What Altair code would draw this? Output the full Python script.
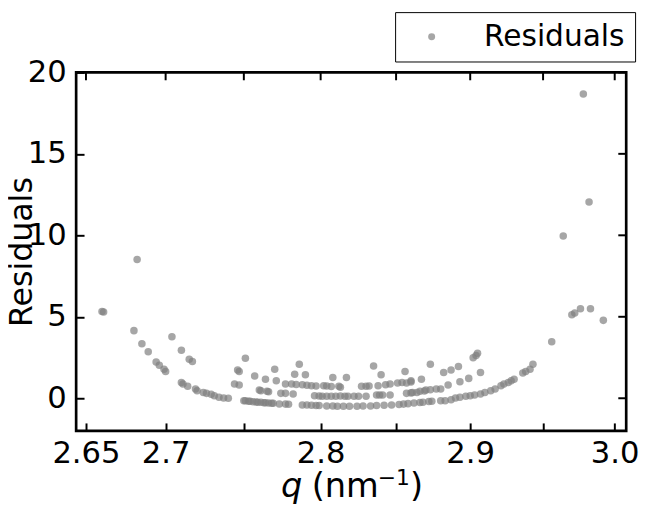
import altair as alt
import pandas as pd

# ---- data ----
q = [
    2.660, 2.661, 2.682, 2.680, 2.685, 2.689, 2.694, 2.696, 2.699, 2.700,
    2.704, 2.710, 2.715, 2.717, 2.710, 2.711, 2.714, 2.719, 2.720, 2.724,
    2.726, 2.729, 2.731, 2.734, 2.737, 2.740, 2.744, 2.747, 2.746, 2.747,
    2.751,
    # lowest band, left
    2.750, 2.751, 2.753, 2.754, 2.756, 2.758, 2.759, 2.761, 2.763, 2.764,
    2.766, 2.768, 2.769, 2.773, 2.777, 2.779,
    # lowest band, middle
    2.788, 2.791, 2.794, 2.797, 2.799, 2.804, 2.808, 2.811, 2.815, 2.819,
    2.824, 2.828, 2.833, 2.837, 2.842, 2.847, 2.852, 2.855, 2.858, 2.862,
    2.866, 2.868, 2.872, 2.874,
    # lowest band, rising right
    2.880, 2.883, 2.887, 2.890, 2.893, 2.897, 2.900, 2.903, 2.907, 2.910,
    2.914, 2.917, 2.921, 2.923, 2.926, 2.928, 2.930, 2.936, 2.938, 2.941,
    2.943, 2.956, 2.970, 2.972, 2.976, 2.983, 2.992,
    # second band
    2.760, 2.761, 2.765, 2.766, 2.774, 2.777, 2.782, 2.796, 2.799, 2.801,
    2.804, 2.807, 2.810, 2.813, 2.816, 2.818, 2.822, 2.825, 2.830, 2.837,
    2.839, 2.841, 2.846, 2.857, 2.860, 2.861, 2.864, 2.866, 2.869, 2.870,
    2.873, 2.877, 2.880,
    # third band
    2.777, 2.781, 2.784, 2.788, 2.791, 2.794, 2.797, 2.802, 2.804, 2.807,
    2.813, 2.812, 2.827, 2.830, 2.832, 2.838, 2.843, 2.846, 2.851, 2.854,
    2.857, 2.860,
    # upper scattered
    2.757, 2.764, 2.770, 2.771, 2.783, 2.786, 2.790, 2.808, 2.817, 2.835,
    2.840, 2.856, 2.860, 2.867, 2.873, 2.882, 2.887, 2.892, 2.893, 2.899,
    2.902, 2.904, 2.905, 2.907, 2.885,
    # far right outliers
    2.964, 2.978, 2.982,
]
residual = [
    5.33, 5.30, 8.52, 4.15, 3.35, 2.86, 2.23, 2.03, 1.78, 1.64,
    3.77, 2.94, 2.39, 2.25, 0.97, 0.87, 0.73, 0.57, 0.46, 0.36,
    0.30, 0.24, 0.16, 0.06, 0.02, 0.00, 0.87, 0.81, 1.74, 1.64,
    2.45,
    -0.15, -0.16, -0.18, -0.19, -0.21, -0.23, -0.24, -0.25, -0.27, -0.28,
    -0.29, -0.30, -0.30, -0.35, -0.36, -0.37,
    -0.41, -0.42, -0.43, -0.44, -0.45, -0.47, -0.48, -0.49, -0.49, -0.49,
    -0.49, -0.48, -0.47, -0.45, -0.43, -0.41, -0.38, -0.36, -0.33, -0.29,
    -0.26, -0.24, -0.20, -0.18,
    -0.15, -0.15, -0.09, 0.02, 0.06, 0.12, 0.16, 0.20, 0.26, 0.36,
    0.46, 0.57, 0.77, 0.87, 0.97, 1.07, 1.17, 1.55, 1.64, 1.78,
    2.09, 3.47, 5.13, 5.23, 5.49, 5.49, 4.78,
    0.50, 0.46, 0.43, 0.40, 0.30, 0.30, 0.26, 0.16, 0.14, 0.12,
    0.12, 0.12, 0.12, 0.14, 0.12, 0.12, 0.12, 0.12, 0.12, 0.20,
    0.20, 0.20, 0.20, 0.30, 0.33, 0.36, 0.36, 0.43, 0.45, 0.50,
    0.52, 0.57, 0.57,
    0.87, 0.87, 0.85, 0.83, 0.80, 0.77, 0.75, 0.77, 0.75, 0.72,
    0.67, 0.73, 0.73, 0.73, 0.75, 0.77, 0.83, 0.87, 0.93, 0.97,
    0.93, 1.00,
    1.37, 1.17, 1.78, 1.07, 1.48, 2.09, 1.44, 1.28, 1.28, 1.98,
    1.44, 1.64, 1.07, 1.17, 2.09, 1.58, 1.74, 1.95, 1.01, 1.22,
    2.49, 2.63, 2.76, 1.58, 0.81,
    9.96, 18.67, 12.04,
]
x_ticks = [2.65, 2.70, 2.75, 2.80, 2.85, 2.90, 2.95, 3.00]
y_ticks = [0, 5, 10, 15, 20]
series_name = "Residuals"
x_title_var = "q"
x_title_open = "(nm"
x_title_sup = "\u22121"
x_title_close = ")"
y_title = "Residuals"

# ---- layout ----
W, H = 557, 363
FONT = "DejaVu Sans"

df = pd.DataFrame({"q": q, "res": residual, "series": series_name})
xt = pd.DataFrame({"q": x_ticks})
yt = pd.DataFrame({"res": y_ticks})

xscale = alt.Scale(type="log", domain=[2.6439, 3.0081], nice=False, zero=False)
yscale = alt.Scale(domain=[-2, 20], nice=False, zero=False)

label_expr = (
    "(abs(datum.value-2.75)<0.001 || abs(datum.value-2.85)<0.001 || abs(datum.value-2.95)<0.001) ? '' : "
    "(abs(datum.value-2.65)<0.001 ? '2.65' : format(datum.value, '.1f'))"
)

xaxis = alt.Axis(
    values=x_ticks, labelExpr=label_expr, title=None, offset=-8,
    tickSize=8, tickWidth=2, tickColor="black", domain=False, grid=False,
    labelFont=FONT, labelFontSize=31, labelColor="black", labelPadding=8,
    labelFlush=False, labelOverlap=False,
)
yaxis = alt.Axis(
    values=y_ticks, title=y_title, offset=-8,
    tickSize=8, tickWidth=2, tickColor="black", domain=False, grid=False,
    labelFont=FONT, labelFontSize=31, labelColor="black", labelPadding=10,
    labelFlush=False, labelOverlap=False,
    titleFont=FONT, titleFontSize=32, titleFontWeight="normal", titleColor="black",
    titleX=-53, titleY=H / 2, titleBaseline="alphabetic", titleAngle=270, titleAlign="center",
)

points = alt.Chart(df).mark_circle(size=58, opacity=0.7).encode(
    x=alt.X("q:Q", scale=xscale, axis=xaxis),
    y=alt.Y("res:Q", scale=yscale, axis=yaxis),
    color=alt.Color(
        "series:N",
        scale=alt.Scale(range=["gray"]),
        legend=alt.Legend(
            title=None, orient="none", legendX=323, legendY=-61,
            padding=10, strokeColor="black", fillColor="white",
            cornerRadius=0, symbolType="circle", symbolSize=50, symbolOffset=12,
            symbolOpacity=0.7, symbolStrokeWidth=0, labelOffset=38,
            labelFont=FONT, labelFontSize=30, labelColor="black",
        ),
    ),
)

top_ticks = alt.Chart(xt).mark_rule(color="black", strokeWidth=2).encode(
    x=alt.X("q:Q", scale=xscale, axis=xaxis), y=alt.value(0), y2=alt.value(8)
)
right_ticks = alt.Chart(yt).mark_rule(color="black", strokeWidth=2).encode(
    y=alt.Y("res:Q", scale=yscale, axis=yaxis), x=alt.value(W - 8), x2=alt.value(W)
)


def title_text(txt, x, y, size, align, style="normal"):
    return alt.Chart(pd.DataFrame({"t": [txt]})).mark_text(
        font=FONT, fontSize=size, fontStyle=style, align=align,
        baseline="alphabetic", color="black",
    ).encode(text="t:N", x=alt.value(x), y=alt.value(y))


t_var = title_text(x_title_var, 229, 430, 34, "right", "italic")
t_open = title_text(x_title_open, 238.5, 430, 34, "left")
t_sup = title_text(x_title_sup, 305.5, 418, 22, "left")
t_close = title_text(x_title_close, 338, 430, 34, "left")

chart = alt.layer(
    points, top_ticks, right_ticks, t_var, t_open, t_sup, t_close
).properties(
    width=W, height=H,
    padding={"left": 69, "top": 62, "right": 16, "bottom": 79},
    autosize="none",
).configure(font=FONT).configure_view(stroke="black", strokeWidth=2.7)

chart.save("out.html", embed_options={"renderer": "svg", "actions": False})
